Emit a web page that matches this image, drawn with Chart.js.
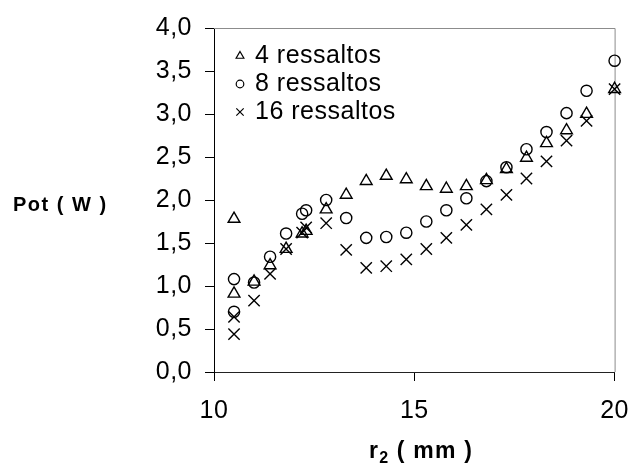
<!DOCTYPE html>
<html lang="pt">
<head>
<meta charset="utf-8">
<title>Pot x r2</title>
<script src="https://cdn.jsdelivr.net/npm/chart.js@4/dist/chart.umd.min.js"></script>
<style>
  html, body { margin: 0; padding: 0; background: #fff; }
  #grafico { position: relative; width: 644px; height: 472px; font-family: Arial, "Liberation Sans", sans-serif; color: #000; }
  #grafico canvas { position: absolute; left: 0; top: 0; }
  .titulo-y { position: absolute; left: 13px; top: 194px; font-weight: bold; font-size: 20px; line-height: 20px; letter-spacing: 1.5px; white-space: nowrap; }
  .titulo-x { position: absolute; left: 321px; width: 200px; top: 439px; text-align: center; font-weight: bold; font-size: 23px; line-height: 23px; letter-spacing: 1.2px; white-space: nowrap; }
  .titulo-x .sub { font-size: 16px; position: relative; top: 5px; }
</style>
</head>
<body>
<div id="grafico">
  <canvas id="c" width="644" height="472"></canvas>
  <div class="titulo-y">Pot ( W )</div>
  <div class="titulo-x">r<span class="sub">2</span> ( mm )</div>
</div>
<script>
// raio r2 (mm) de cada medição
const raios = [10.5, 10.5, 11.0, 11.4, 11.8, 12.2, 12.3, 12.8, 13.3, 13.8, 14.3, 14.8, 15.3, 15.8, 16.3, 16.8, 17.3, 17.8, 18.3, 18.8, 19.3, 20.0];

// potência (W) por número de ressaltos
const pot4 = [1.78, 0.91, 1.05, 1.24, 1.43, 1.61, 1.64, 1.89, 2.06, 2.22, 2.28, 2.24, 2.16, 2.13, 2.16, 2.23, 2.36, 2.49, 2.66, 2.81, 3.00, 3.29];
const pot8 = [1.08, 0.70, 1.04, 1.34, 1.61, 1.84, 1.88, 2.00, 1.79, 1.56, 1.57, 1.62, 1.75, 1.88, 2.02, 2.22, 2.38, 2.59, 2.79, 3.01, 3.27, 3.62];
const pot16 = [0.64, 0.44, 0.83, 1.14, 1.43, 1.62, 1.68, 1.73, 1.42, 1.21, 1.23, 1.31, 1.43, 1.56, 1.71, 1.89, 2.06, 2.25, 2.45, 2.69, 2.92, 3.29];

const rotulos = ['4 ressaltos', '8 ressaltos', '16 ressaltos'];
const eixoY = { min: 0, max: 4, passo: 0.5 };
const eixoX = { min: 10, max: 20, passo: 5 };

const fonte = 'Arial, "Liberation Sans", sans-serif';
Chart.defaults.font.family = fonte;
Chart.defaults.font.size = 25;
Chart.defaults.color = '#000';

function pontos(valores) {
  return raios.map((r, i) => ({ x: r, y: valores[i] }));
}

function serie(label, valores, estilo, raio, raioLegenda) {
  return {
    label,
    data: pontos(valores),
    pointStyle: estilo,
    pointRadius: raio,
    pointHoverRadius: raio,
    pointBorderWidth: 1.4,
    pointBorderColor: '#000',
    pointBackgroundColor: 'rgba(0,0,0,0)',
    raioLegenda,
    clip: false
  };
}

// espaçamento de letras parecido com o original
const espacamento = {
  id: 'espacamento',
  beforeLayout(chart) { chart.ctx.letterSpacing = '0.5px'; },
  beforeDraw(chart) { chart.ctx.letterSpacing = '0.5px'; }
};

// borda cinza em cima e à direita da área do gráfico
const moldura = {
  id: 'moldura',
  beforeDatasetsDraw(chart) {
    const { ctx, chartArea: a } = chart;
    ctx.save();
    ctx.strokeStyle = '#8c8c8c';
    ctx.lineWidth = 1;
    ctx.beginPath();
    ctx.moveTo(a.left, a.top + 0.5);
    ctx.lineTo(a.right + 0.5, a.top + 0.5);
    ctx.lineTo(a.right + 0.5, a.bottom);
    ctx.stroke();
    ctx.restore();
  }
};

// legenda dentro da área do gráfico, canto superior esquerdo
const legenda = {
  id: 'legendaInterna',
  afterDraw(chart) {
    const { ctx, chartArea: a } = chart;
    ctx.save();
    ctx.font = '25px ' + fonte;
    ctx.textBaseline = 'middle';
    ctx.textAlign = 'left';
    chart.data.datasets.forEach((ds, i) => {
      const y = a.top + 28 + i * 28;
      ctx.strokeStyle = '#000';
      ctx.fillStyle = 'rgba(0,0,0,0)';
      ctx.lineWidth = 1.2;
      Chart.helpers.drawPoint(ctx, { pointStyle: ds.pointStyle, radius: ds.raioLegenda, borderWidth: 1.2, rotation: 0 }, a.left + 26, y);
      ctx.fillStyle = '#000';
      ctx.fillText(ds.label, a.left + 41, y);
    });
    ctx.restore();
  }
};

new Chart(document.getElementById('c'), {
  type: 'scatter',
  data: {
    datasets: [
      serie(rotulos[0], pot4, 'triangle', 6.8, 4.5),
      serie(rotulos[1], pot8, 'circle', 5.6, 3.8),
      serie(rotulos[2], pot16, 'crossRot', 8, 5.2)
    ]
  },
  options: {
    responsive: false,
    animation: false,
    devicePixelRatio: 1,
    layout: { padding: { left: 0, right: 17, top: 24, bottom: 0 } },
    plugins: {
      legend: { display: false },
      tooltip: { enabled: false }
    },
    scales: {
      x: {
        type: 'linear',
        min: eixoX.min,
        max: eixoX.max,
        ticks: { stepSize: eixoX.passo, padding: 15, maxRotation: 0, autoSkip: false },
        grid: { drawOnChartArea: false, drawTicks: true, tickLength: 9, color: '#000', lineWidth: 1 },
        border: { color: '#222', width: 1 },
        afterFit(scale) { scale.height = 100; }
      },
      y: {
        type: 'linear',
        min: eixoY.min,
        max: eixoY.max,
        ticks: {
          stepSize: eixoY.passo,
          padding: 13,
          autoSkip: false,
          callback: v => v.toFixed(1).replace('.', ',')
        },
        grid: { drawOnChartArea: false, drawTicks: true, tickLength: 9, color: '#000', lineWidth: 1 },
        border: { color: '#000', width: 1 },
        afterFit(scale) { scale.width = 214; }
      }
    }
  },
  plugins: [espacamento, moldura, legenda]
});
</script>
</body>
</html>
